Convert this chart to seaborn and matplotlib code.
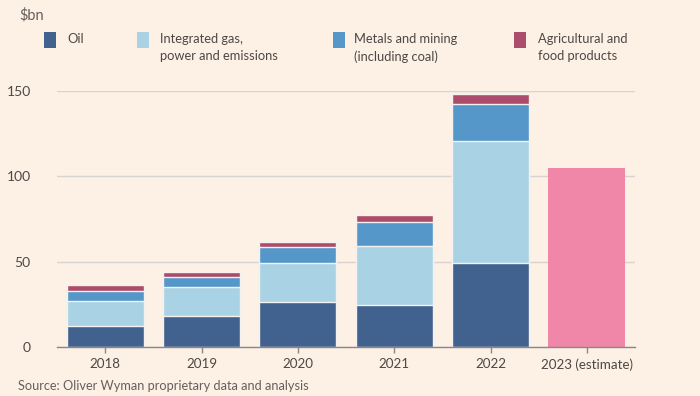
import matplotlib
matplotlib.use("Agg")
import matplotlib.pyplot as plt
import seaborn as sns
import numpy as np
import pandas as pd
from matplotlib.patches import Rectangle

categories = ["2018", "2019", "2020", "2021", "2022", "2023 (estimate)"]
years = ["2018", "2019", "2020", "2021", "2022"]
oil = [12.1, 17.9, 26.3, 24.4, 49.5]
gas = [14.6, 17.4, 23.0, 34.9, 71.0]
metals = [6.2, 5.7, 9.2, 13.8, 21.7]
agri = [3.4, 2.7, 3.3, 4.3, 6.0]
estimate_cat = ["2023 (estimate)"]
estimate_val = [105]
series_names = ["Oil", "Integrated gas,\npower and emissions",
                "Metals and mining\n(including coal)", "Agricultural and\nfood products"]
yticks = [0, 50, 100, 150]

BG = "#fdf0e5"
colors = ["#41618f", "#a9d2e4", "#5697ca", "#ad4c6a"]
est_color = "#f087a9"
txt = "#4d4845"

sns.set_theme(style="white")
plt.rcParams["font.family"] = ["Lato", "DejaVu Sans"]

fig = plt.figure(figsize=(7, 3.96), dpi=100, facecolor=BG)
ax = fig.add_axes([57/700, 1-347/396, (635-57)/700, (347-91)/396])
ax.set_facecolor(BG)

layers = [oil, gas, metals, agri]
cum = np.cumsum(np.array(layers), axis=0)
for i in range(len(layers)-1, -1, -1):
    sns.barplot(x=years, y=cum[i], order=categories, color=colors[i], saturation=1,
                width=0.8, edgecolor="#f4f1ee", linewidth=1.0, ax=ax, zorder=3)
sns.barplot(x=estimate_cat, y=estimate_val, order=categories, color=est_color, saturation=1,
            width=0.8, linewidth=0, ax=ax, zorder=3)

ax.set_ylim(0, 150)
ax.set_xlim(-0.5, 5.5)
ax.set_yticks(yticks)
ax.set_yticklabels([str(v) for v in yticks])
ax.yaxis.grid(True, color="#d8d3cf", linewidth=1)
ax.set_axisbelow(True)
for s in ["top", "right", "left"]:
    ax.spines[s].set_visible(False)
ax.spines["bottom"].set_color("#8c8783")
ax.spines["bottom"].set_linewidth(1)
ax.spines["bottom"].set_zorder(5)
ax.tick_params(axis="y", length=0, pad=19, labelsize=10, labelcolor=txt)
ax.tick_params(axis="x", length=4, width=1, color="#8c8783", pad=4, labelsize=9.6, labelcolor=txt, bottom=True)
ax.set_xlabel("")
ax.set_ylabel("")

fig.text(19/700, 1-15/396, "$bn", fontsize=10.5, color="#66605c", va="center", ha="left")

leg_sq_x = [44, 137, 333, 514]
leg_tx_x = [67, 160, 354, 538]
for i, name in enumerate(series_names):
    fig.patches.append(Rectangle((leg_sq_x[i]/700, 1-48/396), 12/700, 16/396,
                                 transform=fig.transFigure, facecolor=colors[i], edgecolor="none"))
    fig.text(leg_tx_x[i]/700, 1-33/396, name, fontsize=9.3, color=txt, va="top", ha="left",
             linespacing=1.55)

fig.text(18/700, 1-386/396, "Source: Oliver Wyman proprietary data and analysis",
         fontsize=9.2, color="#66605c", va="center", ha="left")

fig.savefig("out.png", dpi=100, facecolor=BG)
